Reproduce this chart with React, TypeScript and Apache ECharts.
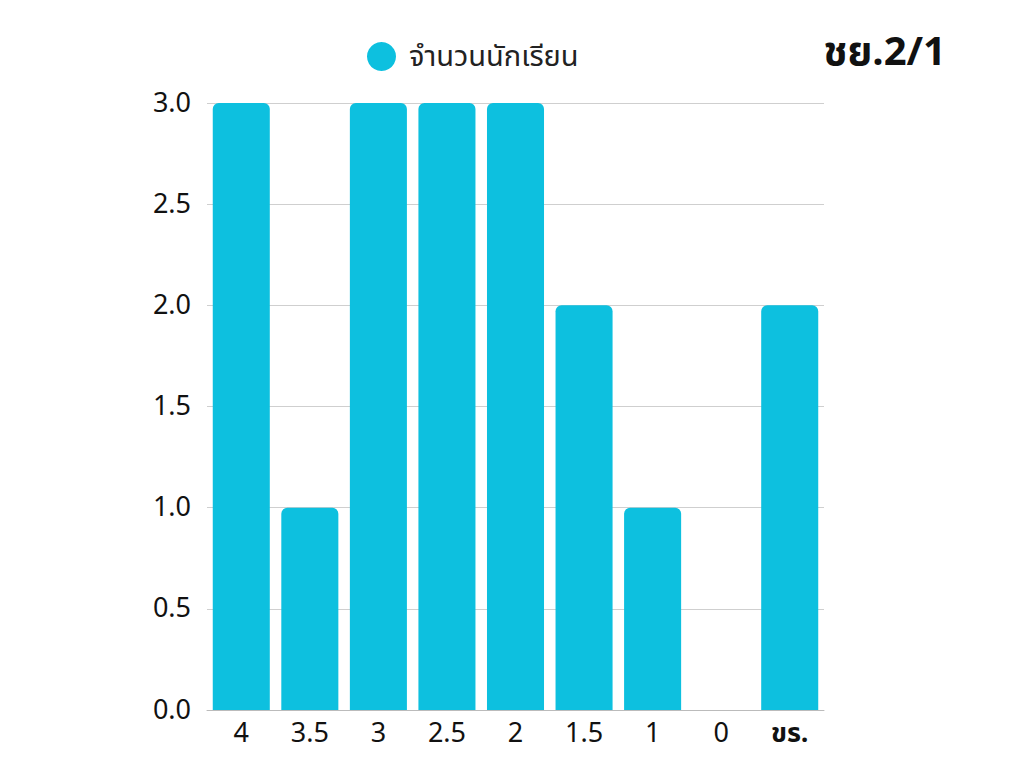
import { useEffect, useRef } from 'react';
import * as echarts from 'echarts';
import type { EChartsOption } from 'echarts';

const categories = ['4', '3.5', '3', '2.5', '2', '1.5', '1', '0', 'ขร.'];
const studentCounts = [3, 1, 3, 3, 3, 2, 1, 0, 2];
const seriesName = 'จำนวนนักเรียน';
const chartTitle = 'ชย.2/1';

const FONT = '"Noto Sans Thai", "Noto Sans", sans-serif';
const BAR_COLOR = '#0dc0df';

function buildOption(): EChartsOption {
  return {
    animation: false,
    textStyle: { fontFamily: FONT },
    title: {
      text: chartTitle,
      right: 72,
      top: 28,
      textStyle: { fontSize: 40, fontWeight: 'bold', color: '#111', fontFamily: FONT },
    },
    legend: {
      data: [seriesName],
      top: 37,
      left: 362,
      icon: 'circle',
      itemWidth: 29,
      itemHeight: 29,
      itemGap: 10,
      textStyle: { fontSize: 29, color: '#222', fontFamily: FONT, padding: [0, 0, 0, 8] },
    },
    grid: { left: 207, right: 199, top: 103, bottom: 57 },
    xAxis: {
      type: 'category',
      data: categories,
      axisTick: { show: false },
      axisLine: { lineStyle: { color: '#bbb' } },
      axisLabel: {
        interval: 0,
        fontSize: 27,
        color: '#111',
        margin: 10,
        formatter: (v: string) => (v === 'ขร.' ? `{b|${v}}` : v),
        rich: { b: { fontSize: 27, fontWeight: 'bold', color: '#111', fontFamily: FONT } },
      },
    },
    yAxis: {
      type: 'value',
      min: 0,
      max: 3,
      interval: 0.5,
      axisLabel: {
        fontSize: 27,
        color: '#111',
        margin: 16,
        formatter: (v: number) => v.toFixed(1),
      },
      splitLine: { lineStyle: { color: '#cfcfcf' } },
    },
    series: [
      {
        name: seriesName,
        type: 'bar',
        data: studentCounts,
        barCategoryGap: '16.8%',
        itemStyle: { color: BAR_COLOR, borderRadius: [6, 6, 0, 0] },
      },
    ],
  };
}

export default function App() {
  const ref = useRef<HTMLDivElement>(null);

  useEffect(() => {
    if (!ref.current) return;
    const chart = echarts.init(ref.current, undefined, { renderer: 'svg' });
    chart.setOption(buildOption());
    return () => chart.dispose();
  }, []);

  return <div ref={ref} style={{ width: 1023, height: 767, margin: -8 }} />;
}
